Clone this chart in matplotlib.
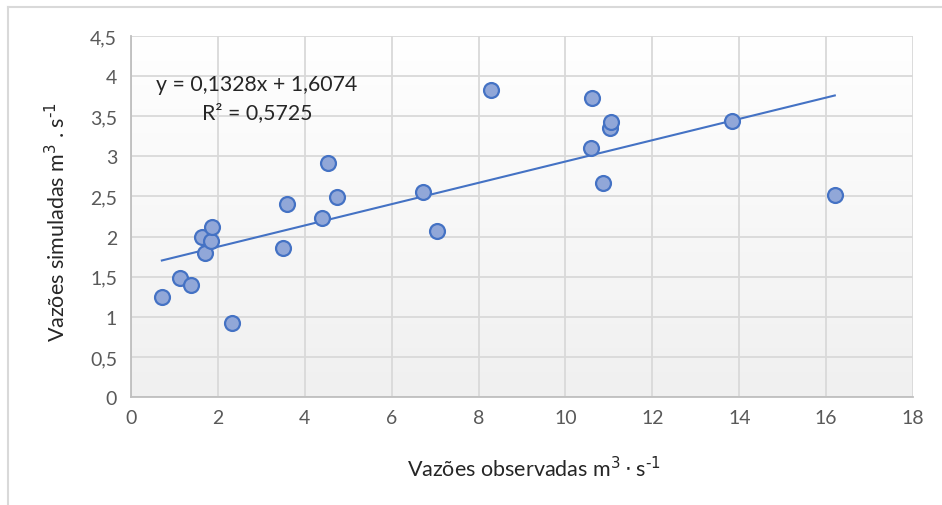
import numpy as np
import matplotlib
matplotlib.use("Agg")
import matplotlib.pyplot as plt
from matplotlib.lines import Line2D
from matplotlib.colors import LinearSegmentedColormap

# Data
obs = [0.71, 1.13, 1.38, 1.70, 1.63, 1.84, 1.86, 2.32, 3.50, 3.59, 4.40, 4.53, 4.74,
       6.72, 7.04, 8.29, 10.61, 10.59, 10.86, 11.02, 11.05, 13.83, 16.20]
sim = [1.25, 1.48, 1.40, 1.80, 2.00, 1.94, 2.12, 0.92, 1.86, 2.40, 2.23, 2.92, 2.49,
       2.55, 2.07, 3.83, 3.73, 3.11, 2.67, 3.35, 3.43, 3.44, 2.52]
slope = 0.1328
intercept = 1.6074
r2 = 0.5725
xticks = [0, 2, 4, 6, 8, 10, 12, 14, 16, 18]
yticks = [0, 0.5, 1, 1.5, 2, 2.5, 3, 3.5, 4, 4.5]
ytick_labels = ["0", "0,5", "1", "1,5", "2", "2,5", "3", "3,5", "4", "4,5"]

plt.rcParams['font.family'] = ['Lato', 'DejaVu Sans']

W, H = 942, 506
fig = plt.figure(figsize=(W / 100, H / 100), dpi=100)
fig.patch.set_facecolor('white')

# outer border lines (top and left)
fig.add_artist(Line2D([8 / W, 1], [1 - 8 / H, 1 - 8 / H], color='#d9d9d9', lw=1.5))
fig.add_artist(Line2D([8 / W, 8 / W], [0, 1 - 8 / H], color='#d9d9d9', lw=1.5))

left, right, top, bottom = 131, 913, 37, 398
ax = fig.add_axes([left / W, 1 - bottom / H, (right - left) / W, (bottom - top) / H])
ax.set_xlim(0, 18)
ax.set_ylim(0, 4.5)

# gradient background
grad = np.linspace(0, 1, 256).reshape(-1, 1)
cmap = LinearSegmentedColormap.from_list('g', ['#f0f0f0', '#ffffff'])
ax.imshow(grad, aspect='auto', cmap=cmap, extent=[0, 18, 0, 4.5], origin='lower', zorder=0)

ax.set_xticks(xticks)
ax.set_yticks(yticks)
ax.set_yticklabels(ytick_labels)
ax.grid(True, color='#d9d9d9', lw=1.3, zorder=1)
ax.set_axisbelow(True)
for s in ['top', 'right']:
    ax.spines[s].set_visible(False)
for s in ['left', 'bottom']:
    ax.spines[s].set_color('#bfbfbf')
    ax.spines[s].set_linewidth(1.3)
ax.tick_params(length=0, labelsize=14, colors='#595959')
ax.tick_params(axis='x', pad=9)
ax.tick_params(axis='y', pad=10)

ax.scatter(obs, sim, s=115, facecolor='#91a7d8', edgecolor='#4472c4', linewidth=1.6, zorder=3)

xs = np.array([min(obs), max(obs)])
ax.plot(xs, slope * xs + intercept, color='#4472c4', lw=1.5, zorder=2)

eq = f"y = {slope:.4f}x + {intercept:.4f}".replace('.', ',')
fig.text(257 / W, 1 - 85 / H, eq, ha='center', va='center', fontsize=15.3, color='#262626')
fig.text(257 / W, 1 - 113 / H, f"R² = {r2:.4f}".replace('.', ','), ha='center', va='center',
         fontsize=15.3, color='#262626')

fig.text(534 / W, 1 - 469 / H, "Vazões observadas m$^{3}\\cdot$s$^{\\text{-1}}$", ha='center', va='center',
         fontsize=15.5, color='#262626')
fig.text(57 / W, 1 - 222 / H, "Vazões simuladas m$^{3}$ . s$^{\\text{-1}}$", ha='center', va='center',
         rotation=90, fontsize=15.5, color='#262626')

fig.savefig('out.png', dpi=100)
